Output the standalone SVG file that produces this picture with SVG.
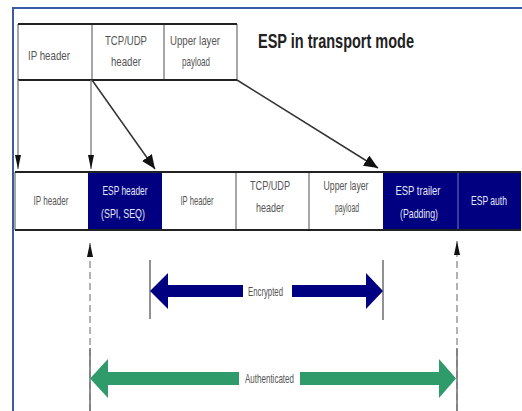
<svg xmlns="http://www.w3.org/2000/svg" width="522" height="411" viewBox="0 0 522 411">
  <style>
    .lbl { font-family: "Liberation Sans", Arial, sans-serif; font-size: 13px; fill: #555; text-anchor: middle; }
    .inv { fill: #e4e6f4; }
    .title { font-family: "Liberation Sans", Arial, sans-serif; font-size: 21px; font-weight: bold; fill: #222; }
    .rule { stroke: #222; stroke-width: 2; fill: none; }
    .sep { stroke: #8a8a8a; stroke-width: 1.5; fill: none; }
    .navy { fill: #000080; }
    .link { stroke: #333; stroke-width: 1.5; fill: none; }
    .dash { stroke: #999; stroke-width: 1.5; stroke-dasharray: 7 4; fill: none; }
    .bar { stroke: #777; stroke-width: 1.6; fill: none; }
  </style>
  <defs>
    <!-- narrow head for the straight drop lines -->
    <marker id="head" viewBox="0 0 14 6" refX="14" refY="3" markerWidth="14" markerHeight="6" markerUnits="userSpaceOnUse" orient="auto">
      <path d="M0,0 L14,3 L0,6 Z" fill="#111"/>
    </marker>
    <marker id="headLarge" viewBox="0 0 14 12" refX="14" refY="6" markerWidth="14" markerHeight="12" markerUnits="userSpaceOnUse" orient="auto">
      <path d="M0,0 L14,6 L0,12 Z" fill="#111"/>
    </marker>
  </defs>

  <rect width="522" height="411" fill="#fff"/>
  <!-- page frame -->
  <path d="M13,411 V8 H522" stroke="#3b5ba5" stroke-width="2" fill="none"/>

  <text class="title" x="258" y="48" textLength="156" lengthAdjust="spacingAndGlyphs">ESP in transport mode</text>

  <!-- original packet -->
  <g id="orig-ip">
    <path class="sep" d="M18,24 V80"/>
    <text class="lbl" x="49" y="60" textLength="42" lengthAdjust="spacingAndGlyphs">IP header</text>
  </g>
  <g id="orig-tcp">
    <path class="sep" d="M92,24 V80"/>
    <text class="lbl" x="126" y="45" textLength="42" lengthAdjust="spacingAndGlyphs">TCP/UDP</text>
    <text class="lbl" x="126" y="66" textLength="30" lengthAdjust="spacingAndGlyphs">header</text>
  </g>
  <g id="orig-payload">
    <path class="sep" d="M164,24 V80 M237,24 V80"/>
    <text class="lbl" x="195" y="45" textLength="50" lengthAdjust="spacingAndGlyphs">Upper layer</text>
    <text class="lbl" x="196" y="66" textLength="28" lengthAdjust="spacingAndGlyphs">payload</text>
  </g>
  <path class="rule" d="M18,24 H237 M18,80 H237"/>

  <!-- ESP packet -->
  <g id="esp-ip">
    <path class="sep" d="M15,172 V230"/>
    <text class="lbl" x="51" y="205" textLength="35" lengthAdjust="spacingAndGlyphs">IP header</text>
  </g>
  <g id="esp-header">
    <rect class="navy" x="88" y="172" width="74" height="58"/>
    <text class="lbl inv" x="125" y="195" textLength="45" lengthAdjust="spacingAndGlyphs">ESP header</text>
    <text class="lbl inv" x="123" y="218" textLength="44" lengthAdjust="spacingAndGlyphs">(SPI, SEQ)</text>
  </g>
  <g id="esp-inner-ip">
    <path class="sep" d="M236,172 V230"/>
    <text class="lbl" x="197" y="205" textLength="33" lengthAdjust="spacingAndGlyphs">IP header</text>
  </g>
  <g id="esp-tcp">
    <path class="sep" d="M309,172 V230"/>
    <text class="lbl" x="270" y="190" textLength="40" lengthAdjust="spacingAndGlyphs">TCP/UDP</text>
    <text class="lbl" x="270" y="212" textLength="28" lengthAdjust="spacingAndGlyphs">header</text>
  </g>
  <g id="esp-payload">
    <text class="lbl" x="346" y="190" textLength="45" lengthAdjust="spacingAndGlyphs">Upper layer</text>
    <text class="lbl" x="347" y="212" textLength="24" lengthAdjust="spacingAndGlyphs">payload</text>
  </g>
  <g id="esp-trailer">
    <rect class="navy" x="383" y="172" width="75" height="58"/>
    <text class="lbl inv" x="418" y="195" textLength="45" lengthAdjust="spacingAndGlyphs">ESP trailer</text>
    <text class="lbl inv" x="419" y="218" textLength="38" lengthAdjust="spacingAndGlyphs">(Padding)</text>
  </g>
  <g id="esp-auth">
    <rect class="navy" x="458" y="172" width="63" height="58"/>
    <path d="M458,172 V230" stroke="#5a6aa8" stroke-width="1.2"/>
    <text class="lbl inv" x="489" y="205" font-size="12" textLength="36" lengthAdjust="spacingAndGlyphs">ESP auth</text>
  </g>
  <path class="rule" d="M15,172 H521 M15,230 H521"/>

  <!-- connectors -->
  <g id="connectors">
    <path class="sep" d="M18,80 V169" marker-end="url(#head)"/>
    <path class="sep" d="M91,80 V169" marker-end="url(#head)"/>
    <path class="link" d="M92,80 L155,169" marker-end="url(#headLarge)"/>
    <path class="link" d="M237,80 L378,168" marker-end="url(#headLarge)"/>

    <path class="dash" d="M90,411 V243" marker-end="url(#head)"/>
    <path class="dash" d="M457,411 V241" marker-end="url(#head)"/>
    <path class="bar" d="M90,348 V411 M457,348 V411"/>
    <path class="bar" d="M150,260 V319 M383,260 V320"/>

    <g id="encrypted">
      <polygon fill="#000080" points="150,291 168,273 168,285 243,285 243,297 168,297 168,309"/>
      <polygon fill="#000080" points="292,285 366,285 366,273 383,291 366,309 366,297 292,297"/>
      <text class="lbl" x="265.5" y="296" textLength="35" lengthAdjust="spacingAndGlyphs">Encrypted</text>
    </g>
    <g id="authenticated">
      <polygon fill="#2f9a6a" points="90,378.5 108,359 108,372 239,372 239,385 108,385 108,398"/>
      <polygon fill="#2f9a6a" points="300,372 439,372 439,359 456,378.5 439,398 439,385 300,385"/>
      <text class="lbl" x="269.5" y="383" textLength="49" lengthAdjust="spacingAndGlyphs">Authenticated</text>
    </g>
  </g>
</svg>
